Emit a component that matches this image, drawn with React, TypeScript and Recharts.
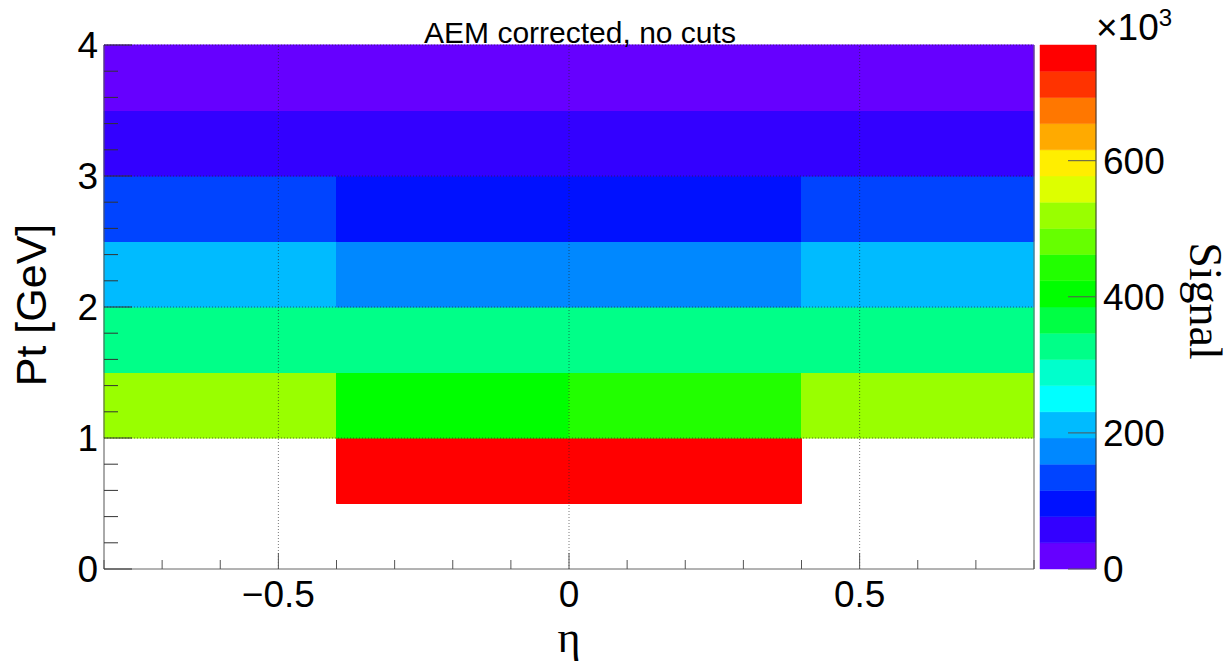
import React from 'react';
import { ComposedChart, XAxis, YAxis, ReferenceArea, ReferenceLine } from 'recharts';

// Bin edges of the 2D histogram
const etaEdges = [-0.8, -0.4, 0, 0.4, 0.8];
const ptEdges = [0, 0.5, 1, 1.5, 2, 2.5, 3, 3.5, 4];

// Signal per Pt bin, one value per eta bin (units of 10^3)
const pt00_05 = [0, 0, 0, 0];
const pt05_10 = [0, 770, 752, 0];
const pt10_15 = [521, 405, 444, 518];
const pt15_20 = [330, 326, 328, 331];
const pt20_25 = [213, 174, 176, 211];
const pt25_30 = [136, 97, 99, 134];
const pt30_35 = [57, 60, 59, 58];
const pt35_40 = [21, 23, 22, 20];

const signalRows = [pt00_05, pt05_10, pt10_15, pt15_20, pt20_25, pt25_30, pt30_35, pt35_40];

// Axis ticks (minor + major) and which ones get labels
const xTicks = [-0.8, -0.7, -0.6, -0.5, -0.4, -0.3, -0.2, -0.1, 0, 0.1, 0.2, 0.3, 0.4, 0.5, 0.6, 0.7, 0.8];
const xLabels = [-0.5, 0, 0.5];
const yTicks = [0, 0.2, 0.4, 0.6, 0.8, 1, 1.2, 1.4, 1.6, 1.8, 2, 2.2, 2.4, 2.6, 2.8, 3, 3.2, 3.4, 3.6, 3.8, 4];
const yLabels = [0, 1, 2, 3, 4];
const zTicks = [0, 200, 400, 600];
const xGrid = [-0.5, 0, 0.5];
const yGrid = [1, 2, 3, 4];

// ROOT rainbow palette, 20 contours
const palette = [
  '#6600ff', '#3300ff', '#0011ff', '#0044ff', '#0088ff',
  '#00bbff', '#00ffff', '#00ffcc', '#00ff88', '#00ff44',
  '#00ff00', '#22ff00', '#66ff00', '#99ff00', '#ddff00',
  '#ffee00', '#ffaa00', '#ff7700', '#ff3300', '#ff0000',
];

const SANS = '"Liberation Sans", Arial, sans-serif';
const SERIF = '"Liberation Serif", "Times New Roman", serif';

const zMax = Math.max(...signalRows.flat());
const nCont = palette.length;

const colorFor = (v: number) => palette[Math.min(nCont - 1, Math.floor((v / zMax) * nCont))];

const cells = signalRows.flatMap((row, i) =>
  row.map((v, j) => ({
    x1: etaEdges[j],
    x2: etaEdges[j + 1],
    y1: ptEdges[i],
    y2: ptEdges[i + 1],
    v,
  }))
).filter((c) => c.v > 0);

const bands = palette.map((c, i) => ({ y1: (i * zMax) / nCont, y2: ((i + 1) * zMax) / nCont, fill: c }));

const fmt = (v: number) => (v < 0 ? '\u2212' + Math.abs(v) : String(v));

const EtaTick = (props: any) => {
  const { x, y, payload } = props;
  const major = xLabels.some((l) => Math.abs(l - payload.value) < 1e-6);
  return (
    <g>
      <line x1={x} y1={y} x2={x} y2={y - (major ? 16 : 9)} stroke="#555" />
      {major && (
        <text x={x} y={y + 38} textAnchor="middle" fontFamily={SANS} fontSize={37} fill="#000">
          {fmt(payload.value)}
        </text>
      )}
    </g>
  );
};

const PtTick = (props: any) => {
  const { x, y, payload } = props;
  const major = yLabels.some((l) => Math.abs(l - payload.value) < 1e-6);
  return (
    <g>
      <line x1={x} y1={y} x2={x + (major ? 28 : 14)} y2={y} stroke="#333" />
      {major && (
        <text x={x - 6} y={y} dy="0.36em" textAnchor="end" fontFamily={SANS} fontSize={37} fill="#000">
          {payload.value}
        </text>
      )}
    </g>
  );
};

const ZTick = (props: any) => {
  const { x, y, payload } = props;
  return (
    <g>
      <line x1={x} y1={y} x2={x - 28} y2={y} stroke="#555" />
      <text x={x + 7} y={y} dy="0.36em" textAnchor="start" fontFamily={SANS} fontSize={37} fill="#000">
        {payload.value}
      </text>
    </g>
  );
};

const abs = { position: 'absolute' as const, left: 0, top: 0 };

export default function App() {
  return (
    <div style={{ position: 'absolute', left: 0, top: 0, width: 1232, height: 666, background: '#fff' }}>
      <div style={abs}>
        <ComposedChart width={1232} height={666} margin={{ top: 45, right: 198, bottom: 57, left: 54 }}>
          {cells.map((c, k) => (
            <ReferenceArea
              key={'c' + k}
              x1={c.x1}
              x2={c.x2}
              y1={c.y1}
              y2={c.y2}
              fill={colorFor(c.v)}
              fillOpacity={1}
              stroke={colorFor(c.v)}
              strokeWidth={1}
              isAnimationActive={false}
            />
          ))}
          {xGrid.map((g) => (
            <ReferenceLine key={'gx' + g} x={g} stroke="#222" strokeOpacity={0.6} strokeDasharray="1 2" />
          ))}
          {yGrid.map((g) => (
            <ReferenceLine key={'gy' + g} y={g} stroke="#222" strokeOpacity={0.6} strokeDasharray="1 2" />
          ))}
          <ReferenceLine x={0.8} stroke="#666" />
          <XAxis
            type="number"
            dataKey="x"
            domain={[-0.8, 0.8]}
            ticks={xTicks}
            interval={0}
            height={40}
            tickSize={0}
            tickMargin={0}
            tickLine={false}
            axisLine={{ stroke: '#666' }}
            tick={<EtaTick />}
            allowDataOverflow
          />
          <YAxis
            type="number"
            dataKey="y"
            domain={[0, 4]}
            ticks={yTicks}
            interval={0}
            width={50}
            tickSize={0}
            tickMargin={0}
            tickLine={false}
            axisLine={{ stroke: '#555' }}
            tick={<PtTick />}
            allowDataOverflow
          />
        </ComposedChart>
      </div>
      <div style={abs}>
        <ComposedChart width={1232} height={666} margin={{ top: 45, right: 86, bottom: 57, left: 1040 }}>
          {bands.map((b, i) => (
            <ReferenceArea
              key={'b' + i}
              x1={0}
              x2={1}
              y1={b.y1}
              y2={b.y2}
              fill={b.fill}
              fillOpacity={1}
              stroke={b.fill}
              strokeWidth={0.5}
              isAnimationActive={false}
            />
          ))}
          <XAxis
            type="number"
            dataKey="x"
            domain={[0, 1]}
            height={40}
            tick={false}
            tickLine={false}
            axisLine={false}
            allowDataOverflow
          />
          <YAxis
            orientation="right"
            type="number"
            dataKey="z"
            domain={[0, zMax]}
            ticks={zTicks}
            interval={0}
            width={50}
            tickSize={0}
            tickMargin={0}
            tickLine={false}
            axisLine={{ stroke: '#333' }}
            tick={<ZTick />}
            allowDataOverflow
          />
        </ComposedChart>
      </div>
      <svg width={1232} height={666} style={{ ...abs, pointerEvents: 'none' }}>
        <text x={580} y={43} textAnchor="middle" fontFamily={SANS} fontSize={30} fill="#000">
          AEM corrected, no cuts
        </text>
        <text
          transform="translate(46,305) rotate(-90)"
          textAnchor="middle"
          fontFamily={SANS}
          fontSize={43}
          fill="#000"
        >
          Pt [GeV]
        </text>
        <text x={569} y={652} textAnchor="middle" fontFamily={SERIF} fontSize={44} fill="#000">
          η
        </text>
        <text x={1096} y={40} fontFamily={SANS} fontSize={37} fill="#000">
          ×10
          <tspan fontSize={24} dy={-14}>
            3
          </tspan>
        </text>
        <text
          transform="translate(1190,301) rotate(90)"
          textAnchor="middle"
          fontFamily={SERIF}
          fontSize={46}
          fill="#000"
        >
          Signal
        </text>
      </svg>
    </div>
  );
}
